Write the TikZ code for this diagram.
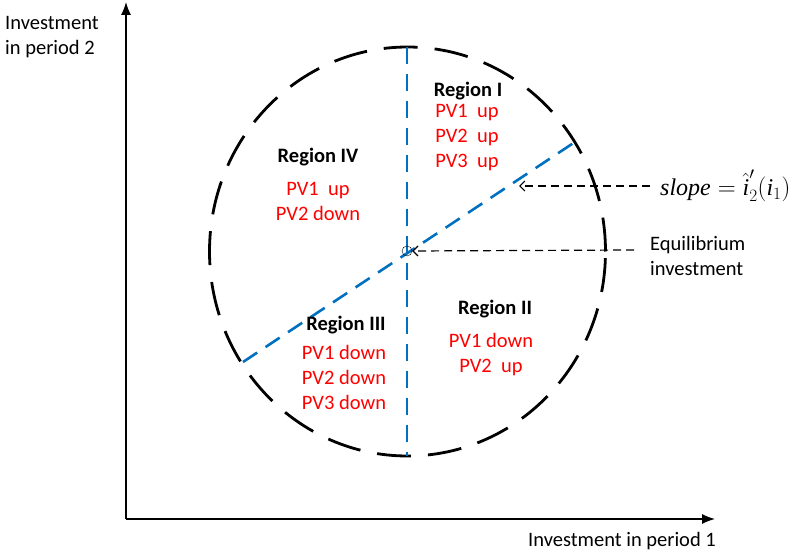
\documentclass[tikz,border=0pt]{standalone}
\usepackage{fontspec}
\setmainfont{Carlito}
\newfontfamily\timesfont{Liberation Serif}
\usepackage{tikz}
\usetikzlibrary{positioning, arrows.meta}
\usepackage{xcolor}
\definecolor{xblue}{HTML}{0070C0}
\definecolor{xred}{HTML}{FF0000}
\tikzset{
	axis/.style={line width=1.3pt, -{Latex[length=13pt, width=10pt]}},
	pointer/.style={line width=1.2pt, dash pattern=on 8pt off 5pt, -{Straight Barb[length=5pt, width=10pt]}},
	split/.style={line width=2.6pt, xblue, dash pattern=on 17pt off 10pt},
	regionlbl/.style={font=\bfseries},
	pvlist/.style={text=xred, align=center, inner sep=0pt},
}
\newcommand{\ti}{\hbox{\timesfont\itshape i}}

\begin{document}
\begin{tikzpicture}[x=1pt, y=-1pt]
			\fontsize{20.5}{25}\selectfont
			\useasboundingbox (0,0) rectangle (798,556);

			\coordinate (origin) at (126,519);
			\coordinate (ytip) at (126,2);
			\coordinate (xtip) at (715,519);
			\draw[axis] (origin) -- (ytip);
			\draw[axis] (origin) -- (xtip);
			\node[anchor=west, align=left, inner sep=0pt] (ylbl) at (5,37) {Investment\\in period 2};
			\node (xlbl) at (622,541) {Investment in period 1};

			\draw[line width=2.8pt, dash pattern=on 34pt off 17pt] (407.5,251.5) ellipse [x radius=198pt, y radius=204.5pt];

			\coordinate (top) at (407,47);
			\coordinate (bottom) at (407,456);
			\coordinate (slopelo) at (243,362);
			\coordinate (slopehi) at (578,140);
			\draw[split] (top) -- (bottom);
			\draw[split] (slopelo) -- (slopehi);
			\node[draw, circle, thin, minimum size=10pt, inner sep=0pt] (eq) at (407,251) {};

			\node[regionlbl] (r1) at (468,91) {Region I};
			\node[pvlist] (pv1) at (467,138) {PV1\ \ up\\PV2\ \ up\\PV3\ \ up};
			\node[regionlbl] (r4) at (318,157) {Region IV};
			\node[pvlist] (pv4) at (318,201) {PV1\ \ up\\PV2 down};
			\node[regionlbl] (r3) at (346,325) {Region III};
			\node[pvlist] (pv3) at (344,377) {PV1 down\\PV2 down\\PV3 down};
			\node[regionlbl] (r2) at (495,309) {Region II};
			\node[pvlist] (pv2) at (491,355) {PV1 down\\PV2\ \ up};

			\node[anchor=west, inner sep=0pt] (slopelbl) at (660,186) {\fontsize{24}{28}\selectfont{\timesfont\itshape slope}${}=\hat{\ti}_2'(\ti_1)$};
			\coordinate (slopept) at (519,186);
			\draw[pointer] ([xshift=-10pt]slopelbl.west) -- (slopept);

			\node[anchor=north west, align=left, inner sep=0pt] (eqlbl) at (650,236) {Equilibrium\\investment};
			\coordinate (eqtail) at (634,250);
			\draw[pointer] (eqtail) -- (eq.east);
		\end{tikzpicture}
\end{document}
